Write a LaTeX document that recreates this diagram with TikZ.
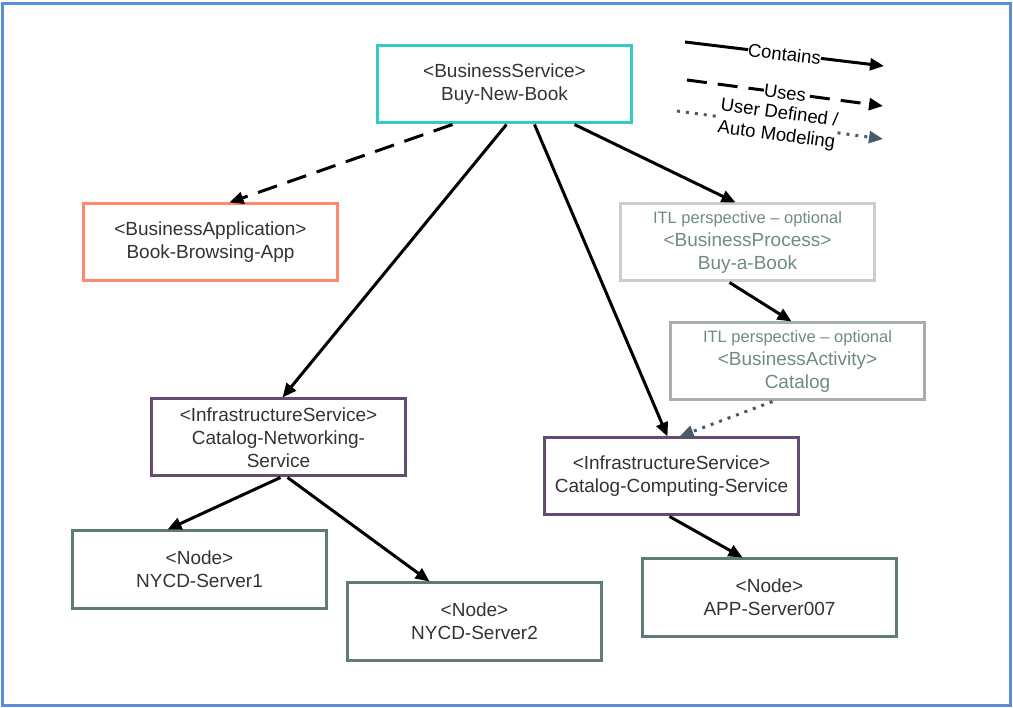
\documentclass[tikz,border=0pt]{standalone}
\usepackage{fontspec}
\setmainfont{Liberation Sans}
\usepackage{xcolor}
\usetikzlibrary{arrows.meta, positioning}
\definecolor{framecol}{HTML}{5B8ED8}
\definecolor{svccol}{HTML}{33CCC4}
\definecolor{appcol}{HTML}{FF8A6A}
\definecolor{proccol}{HTML}{C9CDCD}
\definecolor{actcol}{HTML}{A9AFAF}
\definecolor{infracol}{HTML}{664B70}
\definecolor{nodecol}{HTML}{5E7B79}
\definecolor{textcol}{HTML}{333333}
\definecolor{itltext}{HTML}{6F8A87}
\definecolor{usercol}{HTML}{4A5A6A}
\tikzstyle{box} = [rectangle, line width=3pt, minimum width=254pt, minimum height=77pt, inner sep=2pt, text centered, align=center, text=textcol, font=\fontsize{19}{23}\selectfont]
\tikzstyle{itlbox} = [box, text=itltext]
\tikzstyle{arrow} = [line width=3pt, ->, >={Triangle[length=14pt,width=12pt]}]
\tikzstyle{uses} = [arrow, dash pattern=on 20pt off 11pt]
\tikzstyle{userdef} = [arrow, usercol, dash pattern=on 3pt off 6pt]
\tikzstyle{leglabel} = [sloped, fill=white, inner sep=0pt, align=center, text=black, font=\fontsize{18.5}{22}\selectfont]
\newcommand{\itl}{{\fontsize{16.5}{23}\selectfont ITL perspective -- optional}}

\begin{document}
\begin{tikzpicture}[x=1pt, y=-1pt]
\useasboundingbox (0,0) rectangle (1013,708);
\draw[framecol, line width=3pt] (2.5,3.5) rectangle (1010.5,705.5);

% Business level
\node (bnb) [box, draw=svccol] at (504.5,84.5) {<BusinessService>\\Buy-New-Book};
\node (app) [box, draw=appcol, below=78pt of bnb, xshift=-294pt] {<BusinessApplication>\\Book-Browsing-App};
\node (proc) [itlbox, draw=proccol, below=78pt of bnb, xshift=243pt] {\itl\\<BusinessProcess>\\Buy-a-Book};
\node (act) [itlbox, draw=actcol, below=39pt of proc, xshift=50pt] {\itl\\<BusinessActivity>\\Catalog};

% Infrastructure level
\node (net) [box, draw=infracol, below=273pt of bnb, xshift=-226pt] {<InfrastructureService>\\Catalog-Networking-\\Service};
\node (comp) [box, draw=infracol, below=35pt of act, xshift=-126pt] {<InfrastructureService>\\Catalog-Computing-Service};

% Nodes
\node (srv1) [box, draw=nodecol, below=52pt of net, xshift=-79pt] {<Node>\\NYCD-Server1};
\node (srv2) [box, draw=nodecol, below=104pt of net, xshift=196pt] {<Node>\\NYCD-Server2};
\node (srv7) [box, draw=nodecol, below=41pt of comp, xshift=98pt] {<Node>\\APP-Server007};

% Arrows
\draw [uses] ([xshift=-52pt]bnb.south) -- ([xshift=19pt]app.north);
\draw [arrow] ([xshift=2pt]bnb.south) -- ([xshift=4pt]net.north);
\draw [arrow] ([xshift=30pt]bnb.south) -- ([xshift=-4pt]comp.north);
\draw [arrow] ([xshift=70pt]bnb.south) -- ([xshift=-12pt]proc.north);
\draw [arrow] ([xshift=-18pt]proc.south) -- ([xshift=-6pt]act.north);
\draw [userdef] ([xshift=-25pt]act.south) -- ([xshift=8pt]comp.north);
\draw [arrow] ([xshift=2pt]net.south) -- ([xshift=-32pt]srv1.north);
\draw [arrow] ([xshift=9pt]net.south) -- ([xshift=-45pt]srv2.north);
\draw [arrow] ([xshift=-2pt]comp.south) -- ([xshift=-27pt]srv7.north);

% Legend
\coordinate (c1) at (685,42);
\coordinate (c2) at (884,66);
\coordinate (u1) at (687,80);
\coordinate (u2) at (883,106);
\coordinate (d1) at (677,111);
\coordinate (d2) at (883,139);
\draw [arrow] (c1) -- node[leglabel] {Contains} (c2);
\draw [uses] (u1) -- node[leglabel] {Uses} (u2);
\draw [userdef] (d1) -- node[leglabel, pos=0.49] {User Defined /\\Auto Modeling} (d2);

\end{tikzpicture}
\end{document}
